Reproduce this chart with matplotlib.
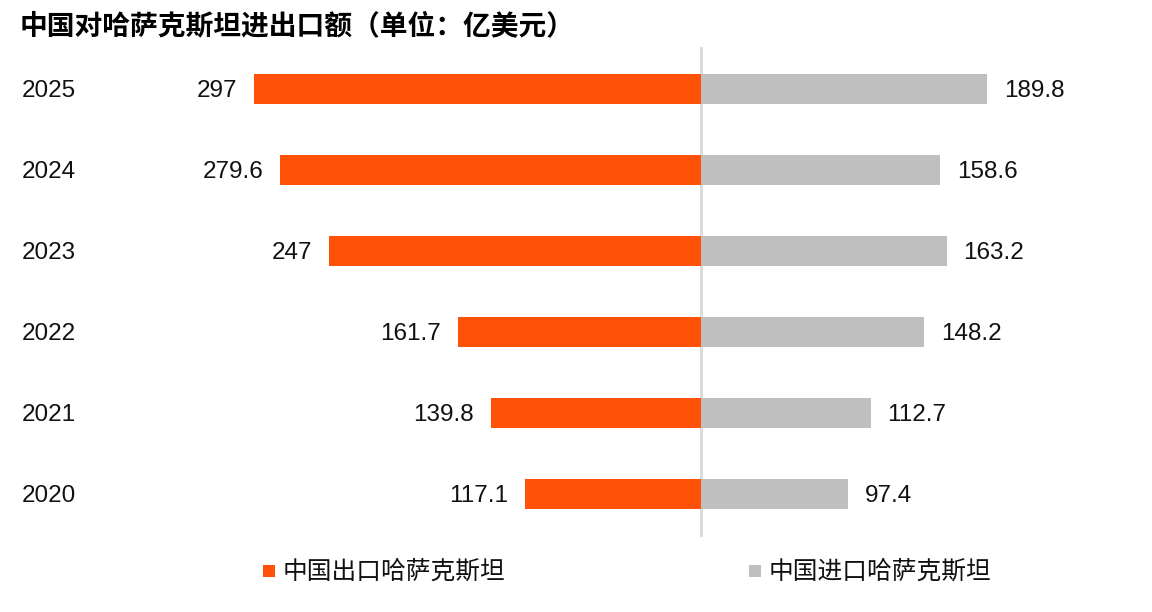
import matplotlib
matplotlib.use("Agg")
import matplotlib.pyplot as plt
from matplotlib.patches import Rectangle
import matplotlib.transforms as mtransforms

plt.rcParams['font.family'] = ['Liberation Sans', 'Noto Sans CJK SC', 'DejaVu Sans']

years = ['2025', '2024', '2023', '2022', '2021', '2020']
exports = [297, 279.6, 247, 161.7, 139.8, 117.1]
imports = [189.8, 158.6, 163.2, 148.2, 112.7, 97.4]
export_labels = ['297', '279.6', '247', '161.7', '139.8', '117.1']
import_labels = ['189.8', '158.6', '163.2', '148.2', '112.7', '97.4']

title = '中国对哈萨克斯坦进出口额（单位：亿美元）'
legend_names = ['中国出口哈萨克斯坦', '中国进口哈萨克斯坦']

orange = '#FF5208'
gray = '#BFBFBF'

W, H = 1152, 612
fig = plt.figure(figsize=(W / 100, H / 100), dpi=100)
ax = fig.add_axes([0, 0, 1, 1])
ax.axis('off')

# pixel mapping: center line at x=701, 1.505 px per unit; rows at y=89 + 81*i
px_per_unit = 1.505
cx = 701
ax.set_xlim(-cx / px_per_unit, (W - cx) / px_per_unit)
ax.set_ylim((H - 89) / 81, -89 / 81)

rows = list(range(len(years)))
ax.barh(rows, [-v for v in exports], height=0.36, color=orange, left=0)
ax.barh(rows, imports, height=0.36, color=gray, left=0)

ax.plot([0, 0], [(48 - 89) / 81, (535 - 89) / 81], color='#D9D9D9', lw=2, zorder=0.5)

fs = 17.5
gap = 17 / px_per_unit
dy = 2 / 81  # text sits a touch lower than bar centre
for i in rows:
    ax.text(-exports[i] - gap, i + dy, export_labels[i], ha='right', va='center', fontsize=fs, color='#111111')
    ax.text(imports[i] + gap, i + dy, import_labels[i], ha='left', va='center', fontsize=fs, color='#111111')

trans = mtransforms.blended_transform_factory(fig.transFigure, ax.transData)
for i in rows:
    ax.text(22 / W, i + dy, years[i], transform=trans, ha='left', va='center', fontsize=fs, color='#111111')

fig.text(20 / W, 1 - 26 / H, title, ha='left', va='center', fontsize=20, fontweight='bold',
         family=['Noto Sans CJK SC', 'DejaVu Sans'])

# legend
for (sx, tx, name, col) in [(263, 283, legend_names[0], orange), (749, 769, legend_names[1], gray)]:
    fig.patches.append(Rectangle((sx / W, 1 - 577 / H), 12 / W, 12 / H, transform=fig.transFigure,
                                 facecolor=col, edgecolor='none'))
    fig.text(tx / W, 1 - 572 / H, name, ha='left', va='center', fontsize=17.8, color='#111111',
             family=['Noto Sans CJK SC', 'DejaVu Sans'])

fig.savefig('out.png', dpi=100, facecolor='white')
